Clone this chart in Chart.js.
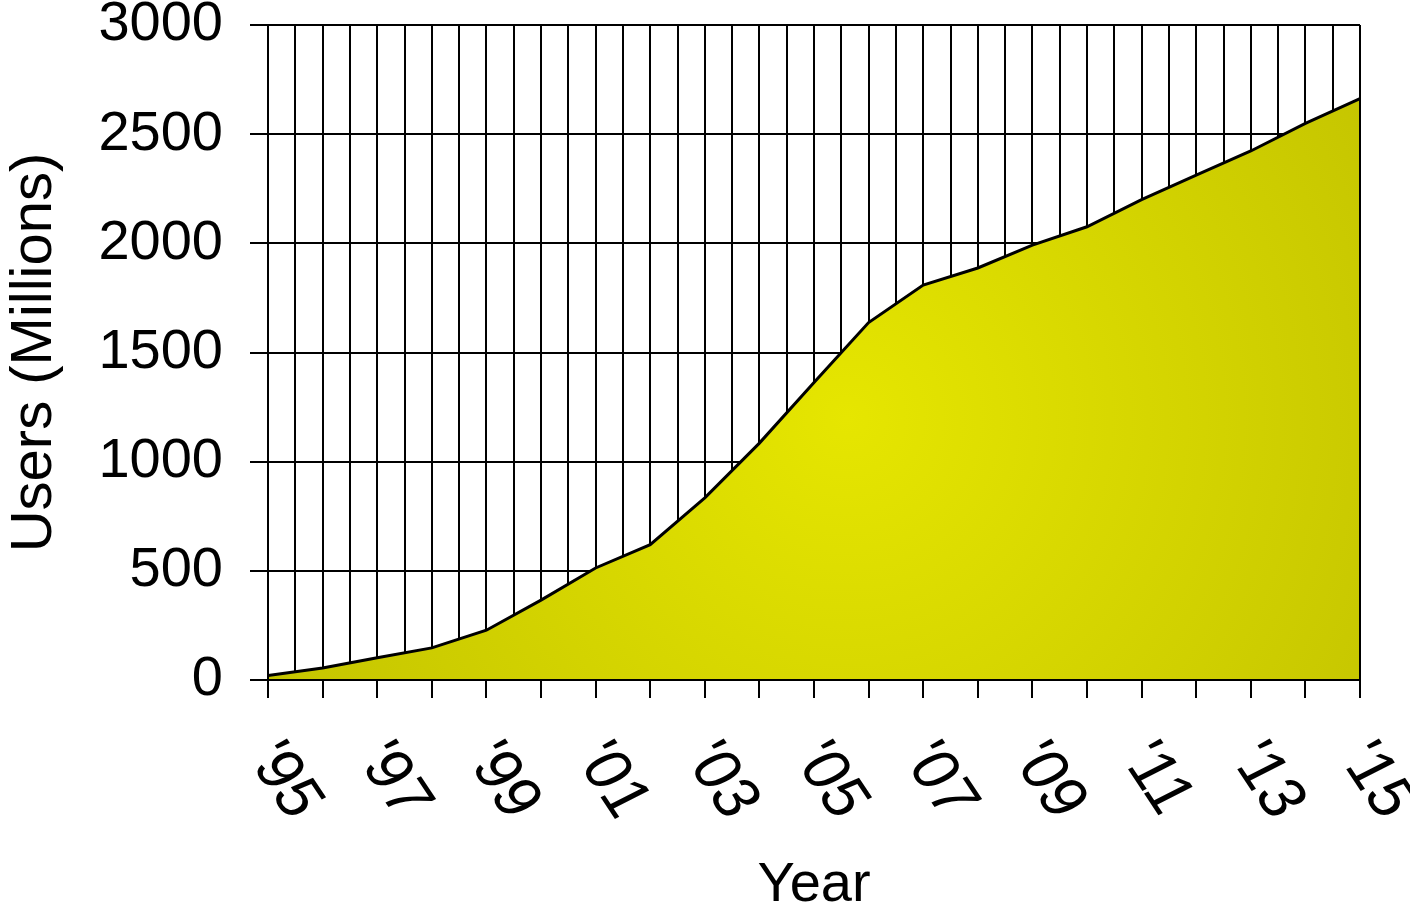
<!DOCTYPE html>
<html>
<head>
<meta charset="utf-8">
<title>Internet users by year</title>
<script src="https://cdn.jsdelivr.net/npm/chart.js@4/dist/chart.umd.min.js"></script>
<style>
  html, body { margin: 0; padding: 0; background: #ffffff; }
  #wrap { width: 1410px; height: 915px; position: relative; }
</style>
</head>
<body>
<div id="wrap"><canvas id="chart" width="1410" height="915"></canvas></div>
<script>
// Users in millions, one value per year
const years = [1995, 1996, 1997, 1998, 1999, 2000, 2001, 2002, 2003, 2004, 2005,
               2006, 2007, 2008, 2009, 2010, 2011, 2012, 2013, 2014, 2015];
const users = [20, 55, 102, 147, 228, 366, 513, 620, 834, 1085, 1363,
               1637, 1809, 1887, 1992, 2076, 2200, 2312, 2423, 2549, 2663];

// Year labels shown under the axis (every second year)
const labelYears = [1995, 1997, 1999, 2001, 2003, 2005, 2007, 2009, 2011, 2013, 2015];
const yearLabels = ["'95", "'97", "'99", "'01", "'03", "'05", "'07", "'09", "'11", "'13", "'15"];

// Value axis ticks
const yTicks = [0, 500, 1000, 1500, 2000, 2500, 3000];

const FONT = '"Liberation Sans", Arial, Helvetica, sans-serif';

// Year labels read downward, slanted clockwise under each tick
const slantedYearLabels = {
  id: 'slantedYearLabels',
  afterDraw(chart) {
    const ctx = chart.ctx;
    const xs = chart.scales.x;
    ctx.save();
    ctx.fillStyle = '#000000';
    ctx.font = '58px ' + FONT;
    ctx.textAlign = 'left';
    ctx.textBaseline = 'middle';
    labelYears.forEach((yr, i) => {
      const px = xs.getPixelForValue(yr);
      ctx.save();
      ctx.translate(px - 6.6, xs.top + 68);
      ctx.scale(1.15, 1);
      ctx.rotate(Math.PI / 3);
      ctx.fillText(yearLabels[i], 0, 0);
      ctx.restore();
    });
    ctx.restore();
  }
};

// Axis lines go back on top of the filled area
const frameOnTop = {
  id: 'frameOnTop',
  afterDatasetsDraw(chart) {
    chart.scales.x.drawBorder();
    chart.scales.y.drawBorder();
    const a = chart.chartArea;
    const ctx = chart.ctx;
    ctx.save();
    ctx.strokeStyle = '#000000';
    ctx.lineWidth = 2;
    ctx.beginPath();
    ctx.moveTo(a.right, a.top);
    ctx.lineTo(a.right, a.bottom);
    ctx.stroke();
    ctx.restore();
  }
};

function areaFill(context) {
  const chart = context.chart;
  const a = chart.chartArea;
  if (!a) return '#d4d400';
  const cx = a.left + (a.right - a.left) * 0.53;
  const cy = a.top + (a.bottom - a.top) * 0.6;
  const r = 640;
  const g = chart.ctx.createRadialGradient(cx, cy, 0, cx, cy, r);
  g.addColorStop(0, '#e6e600');
  g.addColorStop(1, '#c4c400');
  return g;
}

new Chart(document.getElementById('chart'), {
  type: 'line',
  data: {
    datasets: [{
      label: 'Users (Millions)',
      data: years.map((y, i) => ({ x: y, y: users[i] })),
      borderColor: '#000000',
      borderWidth: 3,
      backgroundColor: areaFill,
      fill: 'origin',
      tension: 0,
      pointRadius: 0,
      pointHoverRadius: 0
    }]
  },
  options: {
    responsive: false,
    animation: false,
    events: [],
    layout: { padding: { top: 25, right: 50, left: 0, bottom: 0 } },
    plugins: {
      legend: { display: false },
      tooltip: { enabled: false }
    },
    scales: {
      x: {
        type: 'linear',
        min: 1995,
        max: 2015,
        offset: false,
        ticks: {
          stepSize: 0.5,
          autoSkip: false,
          display: false
        },
        grid: {
          color: '#000000',
          lineWidth: 2,
          drawTicks: true,
          tickLength: 18,
          tickWidth: 2,
          tickColor: (c) => (c.tick && Number.isInteger(c.tick.value)) ? '#000000' : 'rgba(0,0,0,0)'
        },
        border: { display: true, color: '#000000', width: 2 },
        title: {
          display: true,
          text: 'Year',
          color: '#000000',
          font: { family: FONT, size: 56, lineHeight: 1 },
          padding: { top: 0, bottom: 1 }
        },
        afterFit(scale) {
          scale.height = 235;
          scale.paddingLeft = 0;
          scale.paddingRight = 0;
        }
      },
      y: {
        min: 0,
        max: 3000,
        afterBuildTicks(scale) { scale.ticks = yTicks.map(v => ({ value: v })); },
        ticks: {
          color: '#000000',
          padding: 27,
          font: { family: FONT, size: 56, lineHeight: 0.85 },
          callback: (v) => String(v)
        },
        grid: {
          color: '#000000',
          lineWidth: 2,
          drawTicks: true,
          tickLength: 18,
          tickWidth: 2,
          tickColor: '#000000'
        },
        border: { display: true, color: '#000000', width: 2 },
        title: {
          display: true,
          text: 'Users (Millions)',
          color: '#000000',
          font: { family: FONT, size: 58, lineHeight: 1.2 },
          padding: 0
        },
        afterFit(scale) {
          scale.width = 268;
          scale.paddingTop = 0;
          scale.paddingBottom = 0;
        }
      }
    }
  },
  plugins: [slantedYearLabels, frameOnTop]
});
</script>
</body>
</html>
